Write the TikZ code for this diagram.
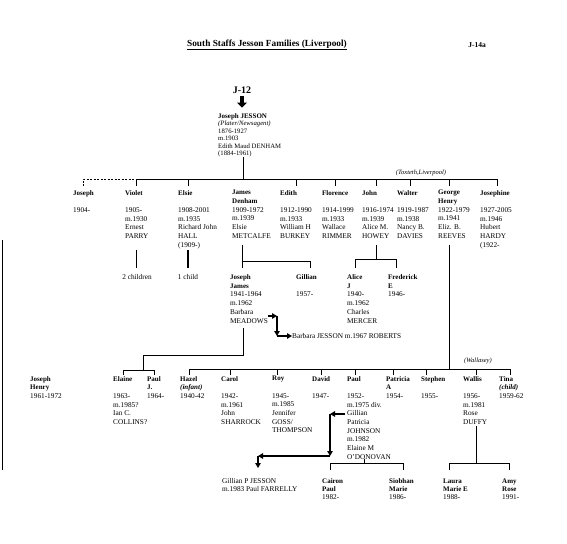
\documentclass[tikz,border=0pt]{standalone}
\usepackage{fontspec}
\setmainfont{Liberation Serif}
\usetikzlibrary{arrows.meta}
\newcommand\pf{\fontsize{7.3}{8.7}\selectfont}
\newcommand\tf{\fontsize{6.7}{7.4}\selectfont}
\newcommand\kf{\fontsize{7.3}{8}\selectfont}
\newcommand\nm[1]{{\fontsize{7}{8}\selectfont\bfseries #1}}
\newcommand\gp{\mbox{}}
\begin{document}
\begin{tikzpicture}[x=1pt,y=-1pt,
  person/.style={anchor=north west,inner sep=0pt,align=left,font=\pf},
  lbl/.style={inner sep=0pt,font=\pf},
  conn/.style={line width=0.8pt},
  arr/.style={line width=1.2pt,-{Triangle[length=5pt,width=5.5pt]}},
  bigarrow/.style={line width=3.6pt,-{Triangle[length=5pt,width=10pt]}},
  place/.style={inner sep=0pt,font=\fontsize{6.5}{8}\selectfont\itshape}
]
\useasboundingbox[fill=white] (0,0) rectangle (567,543);

% scan edge
\draw[line width=0.6pt] (2,240) -- (2,470);

% header
\node[inner sep=0pt,font=\fontsize{9.3}{11}\selectfont\bfseries] (title) at (267,45) {\underline{South Staffs Jesson Families (Liverpool)}};
\node[inner sep=0pt,font=\fontsize{7.5}{9}\selectfont\bfseries] (ref) at (477,45) {J-14a};
\node[inner sep=0pt,font=\fontsize{10}{12}\selectfont\bfseries] (j12) at (242,90) {J-12};
\draw[bigarrow] ([yshift=-2pt]j12.south) -- ++(0,12);

\node[person,font=\tf] (jj) at (218,113.5) {\nm{Joseph JESSON}\\ \textit{(Plater/Newsagent)}\\ 1876-1927\\ m.1903\\ Edith Maud DENHAM\\ (1884-1961)};

% sibling bar
\coordinate (top) at (243,179);
\draw[conn] (243,157) -- (top);
\draw[conn,dash pattern=on 2pt off 1.5pt] (83,186) -- (83,179) -- (136,179);
\draw[conn] (136,179) -- (497,179) -- (497,186);
\foreach \x in {136,188,296,335,376,410,449} \draw[conn] (\x,179) -- (\x,186);
\node[place] (toxteth) at (421,172.5) {(Toxteth,Liverpool)};

% generation 1
\node[person] (joseph) at (73,190) {\nm{Joseph}\\ \gp\\ 1904-};
\node[person] (violet) at (125,190) {\nm{Violet}\\ \gp\\ 1905-\\ m.1930\\ Ernest\\ PARRY};
\node[person] (elsie) at (178,190) {\nm{Elsie}\\ \gp\\ 1908-2001\\ m.1935\\ Richard John\\ HALL\\ (1909-)};
\node[person] (james) at (232,190) {\nm{James}\\ \nm{Denham}\\ 1909-1972\\ m.1939\\ Elsie\\ METCALFE};
\node[person] (edith) at (280,190) {\nm{Edith}\\ \gp\\ 1912-1990\\ m.1933\\ William H\\ BURKEY};
\node[person] (florence) at (322,190) {\nm{Florence}\\ \gp\\ 1914-1999\\ m.1933\\ Wallace\\ RIMMER};
\node[person] (john) at (362,190) {\nm{John}\\ \gp\\ 1916-1974\\ m.1939\\ Alice M.\\ HOWEY};
\node[person] (walter) at (397,190) {\nm{Walter}\\ \gp\\ 1919-1987\\ m.1938\\ Nancy B.\\ DAVIES};
\node[person] (george) at (438,190) {\nm{George}\\ \nm{Henry}\\ 1922-1979\\ m.1941\\ Eliz. B.\\ REEVES};
\node[person] (josephine) at (480,190) {\nm{Josephine}\\ \gp\\ 1927-2005\\ m.1946\\ Hubert\\ HARDY\\ (1922-};

% violet, elsie
\draw[conn] (136,250) -- (136,268);
\node[lbl] (vch) at (137,277) {2 children};
\draw[line width=1.1pt] (188,250) -- (188,268);
\node[lbl] (ech) at (188,277) {1 child};

% james
\draw[conn] (242,245) -- (242,268);
\draw[conn] (242,261) -- (310,261) -- (310,268);
% john
\draw[conn] (376,245) -- (376,259);
\draw[conn] (355,268) -- (355,259) -- (396,259) -- (396,268);

% generation 2
\node[person] (josjames) at (230,274.5) {\nm{Joseph}\\ \nm{James}\\ 1941-1964\\ m.1962\\ Barbara\\ MEADOWS};
\node[person] (gillian) at (296,274.5) {\nm{Gillian}\\ \gp\\ 1957-};
\node[person] (alice) at (347,274.5) {\nm{Alice}\\ \nm{J}\\ 1940-\\ m.1962\\ Charles\\ MERCER};
\node[person] (frederick) at (388,274.5) {\nm{Frederick}\\ \nm{E}\\ 1946-};

\node[lbl,anchor=west] (barbara) at (292,336) {Barbara JESSON m.1967 ROBERTS};
\coordinate (mw) at (268,316);
\coordinate (mc1) at (277,316);
\coordinate (mc2) at (277,336);
\draw[arr] (mw) -- (mc1);
\draw[arr] (mc1) -- (mc2);
\draw[arr] (mc2) -- (barbara.west);

% joseph james children
\draw[conn] (243,328) -- (243,355) -- (143,355) -- (143,370);
\draw[conn] (123,375) -- (123,370) -- (154,370) -- (154,375);

% george children
\draw[line width=1pt] (449,245) -- (449,369);
\draw[conn] (189,375) -- (189,369) -- (510,369) -- (510,375);
\foreach \x in {230,277,321,355,393,426,476} \draw[conn] (\x,369) -- (\x,375);
\node[place] (wallasey) at (478,361) {(Wallasey)};

% generation 3
\node[person] (josephhenry) at (30,376) {\nm{Joseph}\\ \nm{Henry}\\ 1961-1972};
\node[person] (elaine) at (113,376) {\nm{Elaine}\\ \gp\\ 1963-\\ m.1985?\\ Ian C.\\ COLLINS?};
\node[person] (paulj) at (147,376) {\nm{Paul}\\ \nm{J.}\\ 1964-};
\node[person] (hazel) at (180,376) {\nm{Hazel}\\ \nm{\itshape (infant)}\\ 1940-42};
\node[person] (carol) at (221,376) {\nm{Carol}\\ \gp\\ 1942-\\ m.1961\\ John\\ SHARROCK};
\node[person] (roy) at (272,376) {\nm{Roy}\\ \gp\\ 1945-\\ m.1985\\ Jennifer\\ GOSS/\\ THOMPSON};
\node[person] (david) at (312,376) {\nm{David}\\ \gp\\ 1947-};
\node[person] (paul) at (347,376) {\nm{Paul}\\ \gp\\ 1952-\\ m.1975 div.\\ Gillian\\ Patricia\\ JOHNSON\\ m.1982\\ Elaine M\\ O'DONOVAN};
\node[person] (patricia) at (386,376) {\nm{Patricia}\\ \nm{A}\\ 1954-};
\node[person] (stephen) at (421,376) {\nm{Stephen}\\ \gp\\ 1955-};
\node[person] (wallis) at (463,376) {\nm{Wallis}\\ \gp\\ 1956-\\ m.1981\\ Rose\\ DUFFY};
\node[person] (tina) at (499,376) {\nm{Tina}\\ \nm{\itshape (child)}\\ 1959-62};

% paul's arrows
\coordinate (pg) at (345,414);
\coordinate (pc1) at (330,414);
\coordinate (pc2) at (330,456);
\coordinate (pc3) at (258,456);
\coordinate (pc4) at (258,468);
\draw[arr] (pg) -- (pc1);
\draw[arr] (pc1) -- (pc2);
\draw[arr] (pc2) -- (pc3);
\draw[arr] (pc3) -- (pc4);
\node[person,font=\kf] (gpj) at (222,478.5) {Gillian P JESSON\\ m.1983 Paul FARRELLY};

% paul's children
\draw[conn] (364,459) -- (364,463);
\draw[conn] (330,470) -- (330,463) -- (403,463) -- (403,470);
\node[person,font=\kf] (cairon) at (322,478.5) {\nm{Cairon}\\ \nm{Paul}\\ 1982-};
\node[person,font=\kf] (siobhan) at (389,478.5) {\nm{Siobhan}\\ \nm{Marie}\\ 1986-};

% wallis's children
\draw[conn] (476,426) -- (476,463);
\draw[conn] (449,470) -- (449,463) -- (509,463) -- (509,470);
\node[person,font=\kf] (laura) at (443,478.5) {\nm{Laura}\\ \nm{Marie E}\\ 1988-};
\node[person,font=\kf] (amy) at (502,478.5) {\nm{Amy}\\ \nm{Rose}\\ 1991-};
\end{tikzpicture}
\end{document}
